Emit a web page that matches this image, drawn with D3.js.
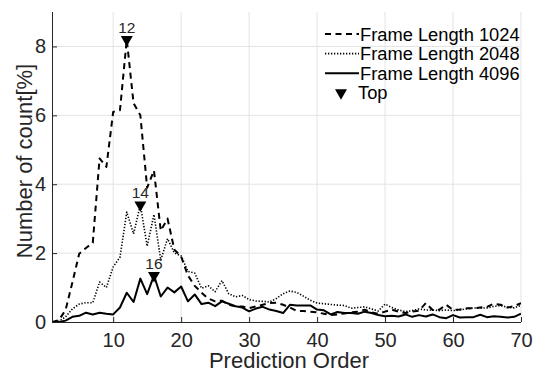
<!DOCTYPE html>
<html>
<head>
<meta charset="utf-8">
<script src="https://cdn.jsdelivr.net/npm/d3@7"></script>
<style>
  body { margin: 0; background: #fff; }
  svg { display: block; font-family: "Liberation Sans", Arial, sans-serif; }
  .grid line { stroke: #e3e3e3; stroke-width: 1; }
  .axis path, .axis line { stroke: #262626; }
  .axis text { fill: #262626; font-size: 20px; }
</style>
</head>
<body>
<div id="chart"></div>
<script>
// prediction order 1..70
var orders = [1,2,3,4,5,6,7,8,9,10,11,12,13,14,15,16,17,18,19,20,
  21,22,23,24,25,26,27,28,29,30,31,32,33,34,35,36,37,38,39,40,
  41,42,43,44,45,46,47,48,49,50,51,52,53,54,55,56,57,58,59,60,
  61,62,63,64,65,66,67,68,69,70];

var frame1024 = [0,0.05,0.35,1.15,1.98,2.15,2.3,4.75,4.5,6.1,
  6.15,8.2,6.35,6.0,3.9,4.4,2.65,3.0,2.1,1.9,
  1.35,1.05,0.85,0.68,0.6,0.62,0.5,0.45,0.45,0.4,
  0.45,0.5,0.55,0.56,0.5,0.42,0.32,0.32,0.3,0.28,
  0.24,0.2,0.22,0.25,0.28,0.3,0.36,0.28,0.24,0.3,
  0.36,0.3,0.26,0.3,0.33,0.55,0.35,0.36,0.5,0.35,
  0.36,0.4,0.4,0.42,0.44,0.53,0.5,0.42,0.46,0.55];

var frame2048 = [0,0.02,0.15,0.38,0.52,0.56,0.56,1.16,1.0,1.6,
  1.88,3.19,2.56,3.4,2.2,3.12,1.8,2.42,2.0,1.92,
  1.47,1.42,0.98,1.05,0.88,1.2,0.82,0.73,0.77,0.65,
  0.61,0.6,0.58,0.68,0.82,0.9,0.86,0.75,0.63,0.55,
  0.53,0.51,0.49,0.48,0.4,0.42,0.44,0.38,0.32,0.52,
  0.42,0.35,0.3,0.33,0.38,0.35,0.35,0.33,0.35,0.33,
  0.35,0.38,0.41,0.4,0.41,0.45,0.48,0.43,0.41,0.48];

var frame4096 = [0,0,0.04,0.15,0.18,0.27,0.22,0.27,0.24,0.22,
  0.42,0.85,0.58,1.26,0.81,1.35,0.74,1.0,0.86,1.03,
  0.6,0.8,0.52,0.56,0.46,0.6,0.53,0.46,0.42,0.31,
  0.39,0.44,0.36,0.32,0.26,0.5,0.48,0.48,0.48,0.36,
  0.34,0.22,0.29,0.26,0.26,0.24,0.3,0.26,0.2,0.17,
  0.18,0.16,0.22,0.15,0.2,0.16,0.22,0.14,0.11,0.2,
  0.13,0.14,0.14,0.21,0.14,0.17,0.15,0.13,0.15,0.24];

var seriesNames = ["Frame Length 1024", "Frame Length 2048", "Frame Length 4096"];
var xTicks = [10, 20, 30, 40, 50, 60, 70];
var yTicks = [0, 2, 4, 6, 8];

var series = [
  {name: seriesNames[0], values: frame1024, dash: "6,4.5", width: 2},
  {name: seriesNames[1], values: frame2048, dash: "1.3,1.7", width: 1.6},
  {name: seriesNames[2], values: frame4096, dash: null, width: 2}
];

var W = 535, H = 371;
var margin = {top: 12, right: 14, bottom: 49, left: 52};
var width = W - margin.left - margin.right,
    height = H - margin.top - margin.bottom;

var svg = d3.select("#chart").append("svg")
  .attr("width", W).attr("height", H);

var g = svg.append("g")
  .attr("transform", "translate(" + margin.left + "," + margin.top + ")");

var x = d3.scaleLinear().domain([1, 70]).range([0, width]);
var y = d3.scaleLinear().domain([0, 9]).range([height, 0]);

// grid
g.append("g").attr("class", "grid")
  .selectAll("line").data(xTicks).enter().append("line")
  .attr("x1", function (d) { return x(d); })
  .attr("x2", function (d) { return x(d); })
  .attr("y1", 0).attr("y2", height);

g.append("g").attr("class", "grid")
  .selectAll("line").data(yTicks.slice(1)).enter().append("line")
  .attr("x1", 0).attr("x2", width)
  .attr("y1", function (d) { return y(d); })
  .attr("y2", function (d) { return y(d); });

g.append("defs").append("clipPath").attr("id", "clip")
  .append("rect").attr("x", 0).attr("y", -2).attr("width", width).attr("height", height + 2);

// lines
var line = d3.line()
  .x(function (d, i) { return x(orders[i]); })
  .y(function (d) { return y(d); });

g.append("g").attr("clip-path", "url(#clip)")
  .selectAll("path").data(series).enter().append("path")
  .attr("fill", "none")
  .attr("stroke", "#000")
  .attr("stroke-width", function (d) { return d.width; })
  .attr("stroke-dasharray", function (d) { return d.dash; })
  .attr("stroke-linejoin", "round")
  .attr("d", function (d) { return line(d.values); });

// axes
var xAxis = g.append("g").attr("class", "axis")
  .attr("transform", "translate(0," + height + ")")
  .call(d3.axisBottom(x).tickValues(xTicks).tickSizeInner(-5).tickSizeOuter(0).tickPadding(11));

var yAxis = g.append("g").attr("class", "axis")
  .call(d3.axisLeft(y).tickValues(yTicks).tickSizeInner(-5).tickSizeOuter(0).tickPadding(6));

xAxis.select(".domain").attr("d", "M0,0.5H" + width);
yAxis.select(".domain").attr("d", "M0.5,0V" + height);

// top markers
var tri = d3.symbol().type(d3.symbolTriangle).size(62);
var tops = series.map(function (s) {
  var i = d3.maxIndex(s.values);
  return {order: orders[i], value: s.values[i]};
});

var topG = g.selectAll(".top").data(tops).enter().append("g")
  .attr("class", "top")
  .attr("transform", function (d) { return "translate(" + x(d.order) + "," + y(d.value) + ")"; });

topG.append("path")
  .attr("d", tri)
  .attr("transform", "rotate(180)")
  .attr("fill", "#000");

topG.append("text")
  .attr("y", -7)
  .attr("text-anchor", "middle")
  .style("font-size", "15.5px")
  .attr("fill", "#262626")
  .text(function (d) { return d.order; });

// axis labels
svg.append("text")
  .attr("x", 289)
  .attr("y", 368)
  .attr("text-anchor", "middle")
  .style("font-size", "22px")
  .attr("fill", "#262626")
  .text("Prediction Order");

svg.append("text")
  .attr("transform", "translate(32," + 161 + ") rotate(-90)")
  .attr("text-anchor", "middle")
  .style("font-size", "22px")
  .attr("fill", "#262626")
  .text("Number of count[%]");

// legend
var legendItems = series.map(function (s) { return {name: s.name, s: s}; });
legendItems.push({name: "Top", s: null});

var legend = svg.selectAll(".legend").data(legendItems).enter().append("g")
  .attr("class", "legend")
  .attr("transform", function (d, i) { return "translate(325," + (34 + i * 19.6) + ")"; });

legend.filter(function (d) { return d.s; }).append("line")
  .attr("x1", 0).attr("x2", 34).attr("y1", 0).attr("y2", 0)
  .attr("stroke", "#000")
  .attr("stroke-width", function (d) { return d.s.width; })
  .attr("stroke-dasharray", function (d) { return d.s.dash; });

legend.filter(function (d) { return !d.s; }).append("path")
  .attr("d", tri)
  .attr("transform", "translate(16,0) rotate(180)")
  .attr("fill", "#000");

legend.append("text")
  .attr("x", function (d) { return d.s ? 35 : 33; })
  .attr("y", 6.5)
  .style("font-size", "18.3px")
  .attr("fill", "#000")
  .text(function (d) { return d.name; });
</script>
</body>
</html>
